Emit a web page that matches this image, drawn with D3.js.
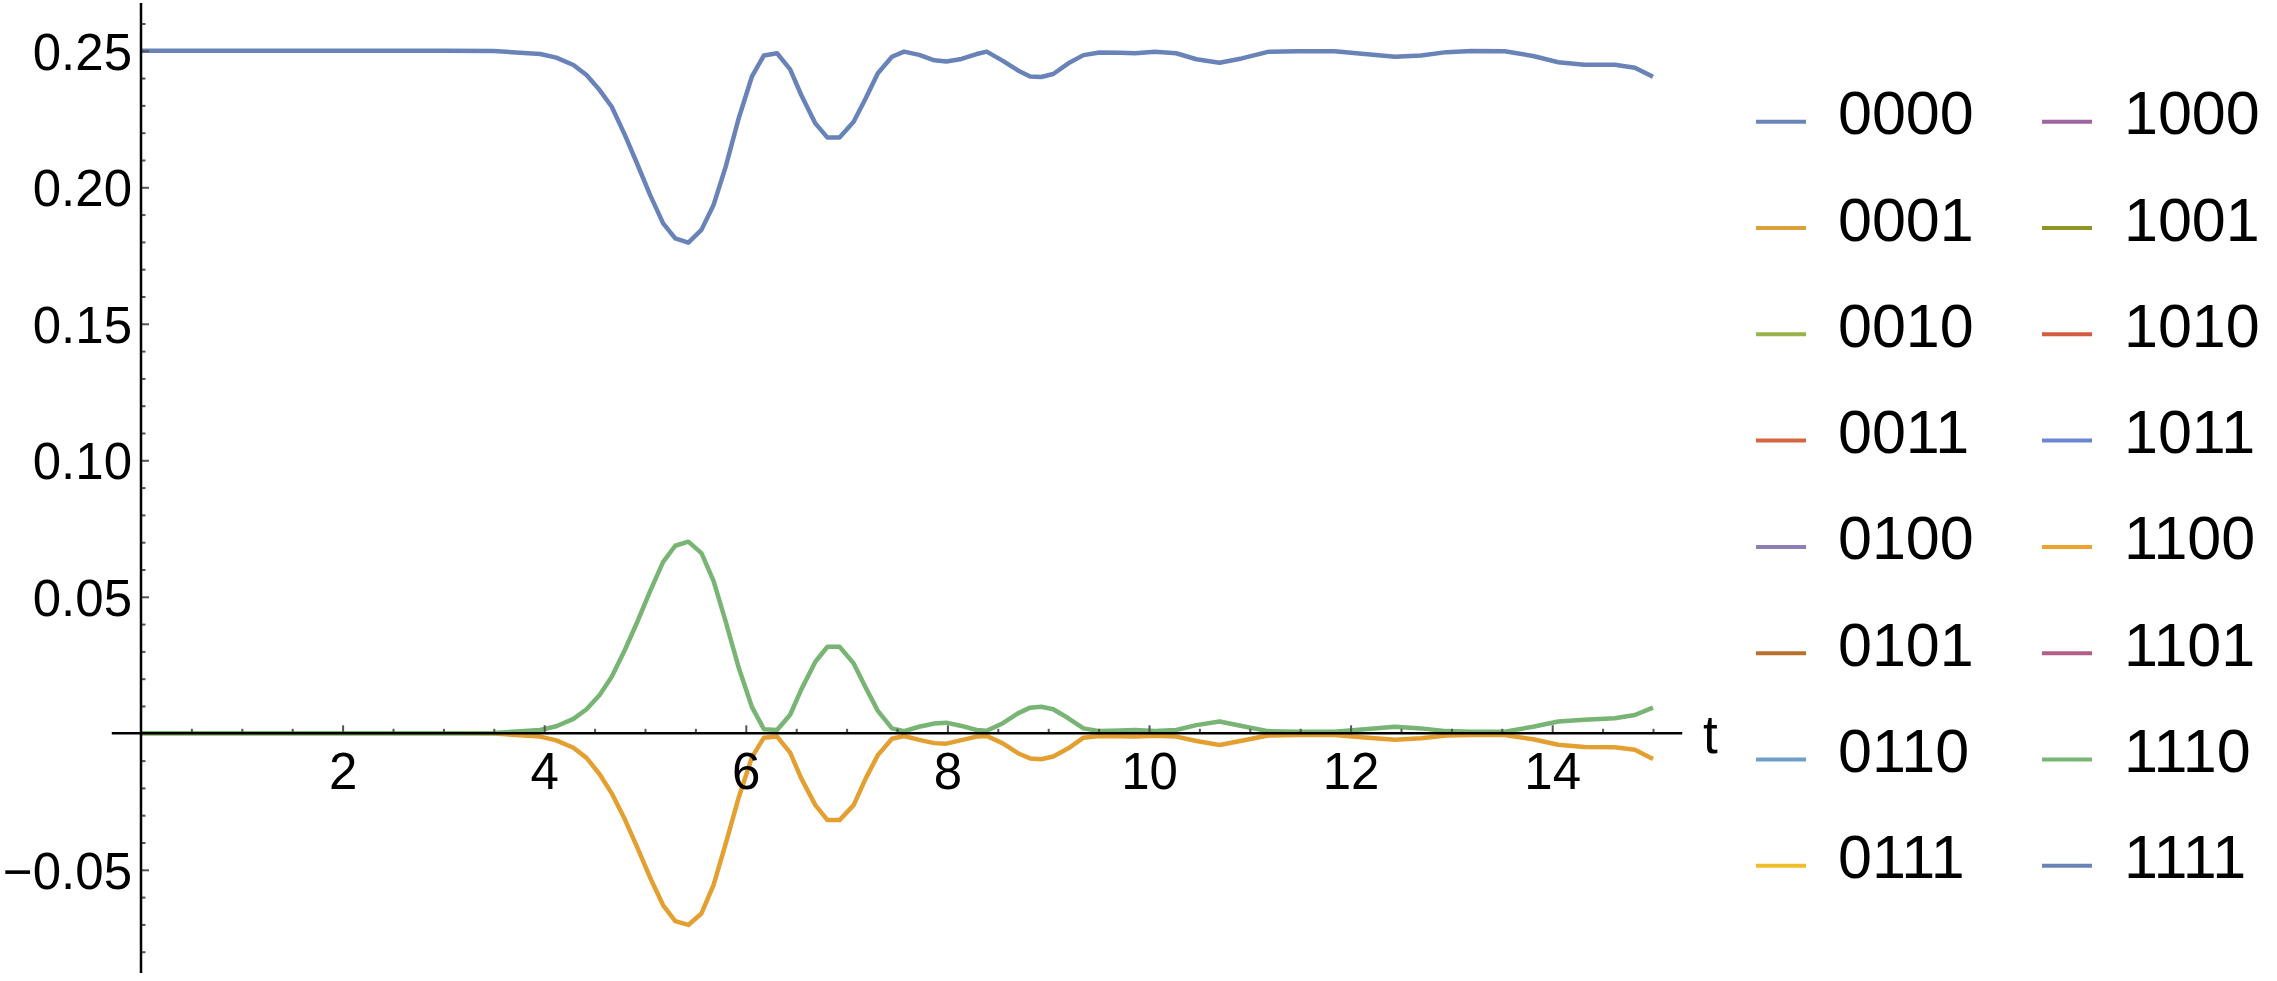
<!DOCTYPE html>
<html>
<head>
<meta charset="utf-8">
<script src="https://cdn.jsdelivr.net/npm/d3@7"></script>
<style>
  body { margin: 0; background: #fff; }
  text { font-family: "Liberation Sans", Arial, Helvetica, sans-serif; }
</style>
</head>
<body>
<div id="chart"></div>
<script>
// sample times
var tValues = [0, 1, 2, 3, 3.5, 3.96, 4.12, 4.29, 4.42, 4.55, 4.67, 4.80, 4.92, 5.05, 5.18,
  5.30, 5.43, 5.56, 5.68, 5.80, 5.93, 6.06, 6.18, 6.31, 6.44, 6.55, 6.69, 6.81, 6.93,
  7.07, 7.19, 7.31, 7.45, 7.57, 7.72, 7.87, 7.99, 8.14, 8.29, 8.39, 8.55, 8.70, 8.82,
  8.93, 9.05, 9.20, 9.35, 9.51, 9.71, 9.86, 10.06, 10.27, 10.47, 10.70, 10.92, 11.18,
  11.48, 11.84, 12.14, 12.44, 12.70, 12.95, 13.20, 13.53, 13.81, 14.06, 14.32, 14.62,
  14.82, 15.0];

// 0000 / 1111 (top curve)
var ampTop = [0.25, 0.25, 0.25, 0.25, 0.2499, 0.2488, 0.2475, 0.2448, 0.2411, 0.2356, 0.2295,
  0.2192, 0.2088, 0.1972, 0.1868, 0.1813, 0.1797, 0.1844, 0.1935, 0.2075, 0.2253, 0.2405,
  0.2483, 0.2491, 0.2432, 0.2338, 0.2234, 0.2182, 0.2182, 0.2240, 0.2326, 0.2418, 0.2478,
  0.2497, 0.2485, 0.2465, 0.2461, 0.2470, 0.2488, 0.2497, 0.2463, 0.2428, 0.2406, 0.2404,
  0.2415, 0.2454, 0.2484, 0.2494, 0.2493, 0.2491, 0.2496, 0.2491, 0.2469, 0.2456, 0.2472,
  0.2496, 0.2498, 0.2498, 0.2488, 0.2478, 0.2483, 0.2495, 0.2499, 0.2498, 0.2481, 0.2458,
  0.2449, 0.2449, 0.2438, 0.2405];

// 1110 (positive bump curve)
var ampUp = [0, 0, 0, 0, 0.0001, 0.0012, 0.0026, 0.0053, 0.0088, 0.0140, 0.0207, 0.0305,
  0.0405, 0.0520, 0.0628, 0.0687, 0.0702, 0.0660, 0.0558, 0.0410, 0.0240, 0.0097, 0.0015,
  0.0012, 0.0068, 0.0160, 0.0262, 0.0317, 0.0317, 0.0256, 0.0167, 0.0082, 0.0018, 0.0008,
  0.0024, 0.0036, 0.0039, 0.0027, 0.0012, 0.0009, 0.0037, 0.0073, 0.0094, 0.0097, 0.0088,
  0.0055, 0.0018, 0.0008, 0.0010, 0.0012, 0.0008, 0.0012, 0.0030, 0.0043, 0.0027, 0.0008,
  0.0006, 0.0006, 0.0015, 0.0024, 0.0018, 0.0008, 0.0006, 0.0006, 0.0024, 0.0043, 0.0050,
  0.0055, 0.0067, 0.0094];

// 1100 (negative dip curve)
var ampDown = [0, 0, 0, 0, -0.0001, -0.0012, -0.0026, -0.0053, -0.0090, -0.0150, -0.0220,
  -0.0315, -0.0415, -0.0528, -0.0630, -0.0688, -0.0702, -0.0660, -0.0556, -0.0405, -0.0235,
  -0.0088, -0.0016, -0.0012, -0.0071, -0.0165, -0.0263, -0.0318, -0.0318, -0.0263, -0.0165,
  -0.0080, -0.0020, -0.0010, -0.0024, -0.0036, -0.0038, -0.0025, -0.0012, -0.0010, -0.0037,
  -0.0073, -0.0092, -0.0095, -0.0085, -0.0055, -0.0016, -0.0010, -0.0011, -0.0012, -0.0009,
  -0.0012, -0.0028, -0.0043, -0.0027, -0.0008, -0.0006, -0.0006, -0.0015, -0.0024, -0.0018,
  -0.0008, -0.0006, -0.0006, -0.0022, -0.0042, -0.0050, -0.0051, -0.0060, -0.0094];

var legendLabels = ["0000", "0001", "0010", "0011", "0100", "0101", "0110", "0111",
  "1000", "1001", "1010", "1011", "1100", "1101", "1110", "1111"];
var legendColors = ["#6a85b9", "#dca03a", "#98b34a", "#d4673f", "#8b7fb6", "#b9702e",
  "#6fa0cb", "#f0be2c", "#9f65a0", "#8e9526", "#d45a40", "#6c86d5", "#eca22f", "#b25f88",
  "#78b676", "#6983b8"];

var xMajor = [2, 4, 6, 8, 10, 12, 14];
var yMajor = [-0.05, 0.05, 0.10, 0.15, 0.20, 0.25];

var width = 2277, height = 981;
var svg = d3.select("#chart").append("svg")
  .attr("width", width)
  .attr("height", height);

var x = d3.scaleLinear().domain([0, 15]).range([141, 1653]);
var y = d3.scaleLinear().domain([-0.0878, 0.2675]).range([973, 3]);

var line = d3.line()
  .x(function(d) { return x(d[0]); })
  .y(function(d) { return y(d[1]); });

var curves = [
  {vals: ampDown, color: "#e3a030"},
  {vals: ampUp, color: "#78b474"},
  {vals: ampTop, color: "#6983b8"}
];
curves.forEach(function(c) {
  svg.append("path")
    .datum(d3.zip(tValues, c.vals))
    .attr("fill", "none")
    .attr("stroke", c.color)
    .attr("stroke-width", 4.5)
    .attr("stroke-linejoin", "round")
    .attr("d", line);
});

// minor ticks (no labels)
var xMinor = d3.range(0.5, 15.01, 0.5).filter(function(v) { return v % 2 !== 0; });
var yMinor = d3.range(-0.08, 0.265, 0.01).filter(function(v) {
  return Math.abs(Math.round(v * 100) % 5) !== 0;
});

var gx = svg.append("g").attr("transform", "translate(0," + y(0) + ")");
gx.append("g")
  .call(d3.axisBottom(x).tickValues(xMinor).tickSize(-4.5).tickFormat(""));
gx.append("g")
  .call(d3.axisBottom(x).tickValues(xMajor).tickSize(-8).tickPadding(19).tickFormat(d3.format("d")));

var gy = svg.append("g").attr("transform", "translate(" + x(0) + ",0)");
gy.append("g")
  .call(d3.axisLeft(y).tickValues(yMinor).tickSize(-4.5).tickFormat(""));
gy.append("g")
  .call(d3.axisLeft(y).tickValues(yMajor).tickSize(-8).tickPadding(9).tickFormat(d3.format(".2f")));

svg.selectAll(".domain").remove();
svg.selectAll(".tick line").attr("stroke", "#555").attr("stroke-width", 2);
svg.selectAll(".tick text")
  .attr("fill", "#000")
  .style("font-size", "51px")
  .style("font-family", "'Liberation Sans', Arial, sans-serif");
gy.selectAll(".tick text").attr("dy", "0.36em");

// axis lines on top
svg.append("line")
  .attr("x1", x(-0.29)).attr("x2", x(15.29))
  .attr("y1", y(0)).attr("y2", y(0))
  .attr("stroke", "#000").attr("stroke-width", 2.5);
svg.append("line")
  .attr("x1", x(0)).attr("x2", x(0))
  .attr("y1", y(0.2675)).attr("y2", y(-0.0878))
  .attr("stroke", "#000").attr("stroke-width", 2.5);

svg.append("text")
  .attr("x", 1703)
  .attr("y", 753)
  .style("font-size", "53px")
  .text("t");

// legend, two columns of eight
var legend = svg.append("g").attr("class", "legend");
legendLabels.forEach(function(name, i) {
  var col = Math.floor(i / 8), row = i % 8;
  var lx = 1756 + col * 286, ly = 121.7 + row * 106.3;
  legend.append("line")
    .attr("x1", lx).attr("x2", lx + 50)
    .attr("y1", ly).attr("y2", ly)
    .attr("stroke", legendColors[i])
    .attr("stroke-width", 4);
  legend.append("text")
    .attr("x", lx + 82)
    .attr("y", ly + 12.5)
    .style("font-size", "61px")
    .text(name);
});
</script>
</body>
</html>
